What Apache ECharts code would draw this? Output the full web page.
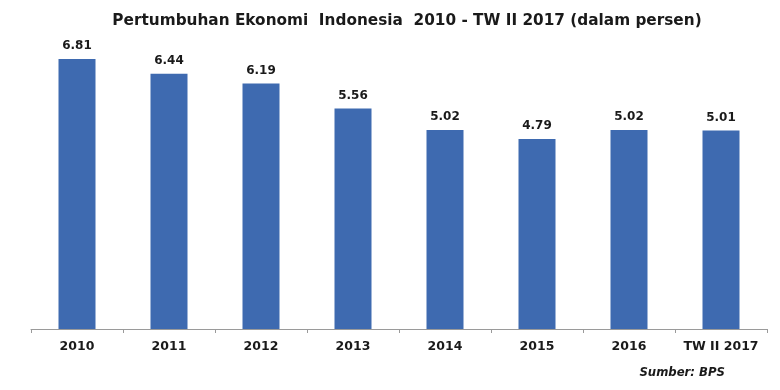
<!DOCTYPE html>
<html><head><meta charset="utf-8">
<script src="https://cdn.jsdelivr.net/npm/echarts@6/dist/echarts.min.js"></script>
<style>html,body{margin:0;padding:0;background:#fff}#c{width:780px;height:390px}</style>
</head><body><div id="c"></div>
<script>
const categories = ['2010','2011','2012','2013','2014','2015','2016','TW II 2017'];
const growth = [6.81, 6.44, 6.19, 5.56, 5.02, 4.79, 5.02, 5.01];
const titleText = 'Pertumbuhan Ekonomi  Indonesia  2010 - TW II 2017 (dalam persen)';
const sourceText = 'Sumber: BPS';

const chart = echarts.init(document.getElementById('c'));
chart.setOption({
  backgroundColor: '#ffffff',
  animation: false,
  title: [{
    text: titleText, top: 9, left: 402, textAlign: 'center',
    textStyle: {fontFamily: 'DejaVu Sans', fontWeight: 'bold', fontSize: 15.3, color: '#1a1a1a'}
  }, {
    text: sourceText, right: 50, top: 362,
    textStyle: {fontFamily: 'DejaVu Sans', fontWeight: 'bold', fontStyle: 'italic', fontSize: 11.7, color: '#1a1a1a'}
  }],
  grid: {left: 31, right: 13, top: 51.5, bottom: 61},
  xAxis: {
    type: 'category', data: categories,
    axisLine: {lineStyle: {color: '#9a9a9a', width: 1}},
    axisTick: {show: true, interval: 0, length: 4, lineStyle: {color: '#9a9a9a'}},
    axisLabel: {interval: 0, fontFamily: 'DejaVu Sans', fontWeight: 'bold', fontSize: 12.5, color: '#1a1a1a', margin: 11}
  },
  yAxis: {
    type: 'value', min: 0, max: 7, show: false,
    splitLine: {show: false}
  },
  series: [{
    type: 'bar', data: growth, barWidth: 37,
    itemStyle: {color: '#3E6AB0'},
    label: {show: true, position: 'top', distance: 7, formatter: p => p.value.toFixed(2),
      fontFamily: 'DejaVu Sans', fontWeight: 'bold', fontSize: 12, color: '#1a1a1a'}
  }]
});
</script></body></html>
